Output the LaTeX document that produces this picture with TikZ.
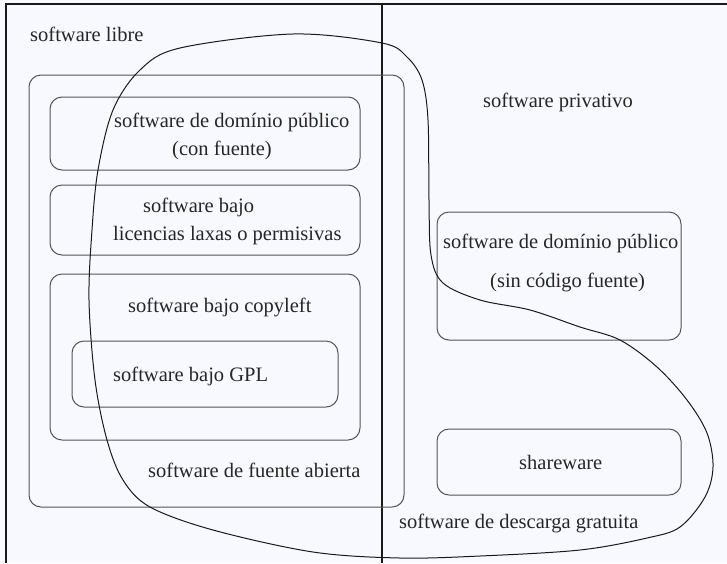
\documentclass[tikz,border=0pt]{standalone}
\usepackage{fontspec}
\setmainfont{Liberation Serif}
\usepackage{tikz}
\usetikzlibrary{positioning}
\definecolor{bgtint}{HTML}{F8F8FF}
\definecolor{boxgray}{HTML}{555555}
\definecolor{framegray}{HTML}{1A1A1A}
\tikzset
{
    areabox/.style  = {rectangle, rounded corners=12pt, draw=boxgray, line width=1pt, inner sep=0pt},
    areatext/.style = {inner sep=0pt, anchor=base west, align=left, text=black!85},
    frameline/.style = {draw=framegray, line width=1.4pt}
}

\begin{document}
\begin{tikzpicture}
    [x=1pt, y=-1pt, font=\fontsize{20.5}{28}\selectfont]
    \fill [bgtint] (0,0) rectangle (727,563);
    \useasboundingbox (0,0) rectangle (727,563);
    % outer frame and the libre / privativo split
    \coordinate (topleft) at (6,4);
    \coordinate (topright) at (727,4);
    \coordinate (botleft) at (6,563);
    \coordinate (splittop) at (382,4);
    \coordinate (splitbot) at (382,563);
    \draw [frameline] (botleft) -- (topleft) -- (topright);
    \draw [frameline, line width=1.1pt] (splittop) -- (splitbot);
    % boxes
    \node [areabox, minimum width=375pt, minimum height=432pt] (abierta) at (216.5,291) {};
    \node [areabox, minimum width=310pt, minimum height=73pt] (dpcon) at (205,133.5) {};
    \node [areabox, minimum width=310pt, minimum height=70pt] (laxas) at (205,220) {};
    \node [areabox, minimum width=310pt, minimum height=166pt] (copyleft) at (205,357) {};
    \node [areabox, minimum width=266pt, minimum height=66pt] (gpl) at (205,374) {};
    \node [areabox, minimum width=244pt, minimum height=128pt] (dpsin) at (559,276) {};
    \node [areabox, minimum width=244pt, minimum height=66pt] (shareware) at (559,462) {};
    % descarga gratuita
    \draw [framegray, line width=1pt] plot [smooth cycle, tension=0.55] coordinates {
      (293,34) (382,43) (407,57) (422,80) (428,120) (429,200) (431,255)
      (443,283) (480,300) (530,310) (580,327) (620,340) (657,367) (687,400)
      (707,433) (713,467) (705,497) (680,527) (647,538) (580,550) (480,556)
      (400,558) (313,552) (213,530) (150,507) (123,480) (107,440) (95,380)
      (89,300) (92,230) (98,170) (113,110) (140,70) (180,48)};
    % labels
    \node [areatext] (libretxt) at (30,41) {software libre};
    \node [areatext] (privtxt) at (483,107) {software privativo};
    \node [areatext] (dpcontxt) at (114,155) {software de domínio público\\\hspace*{58pt}(con fuente)};
    \node [areatext] (laxastxt) at (113,240) {\hspace*{30pt}software bajo\\licencias laxas o permisivas};
    \node [areatext] (copylefttxt) at (128,312) {software bajo copyleft};
    \node [areatext] (gpltxt) at (113,381) {software bajo GPL};
    \node [areatext] (abiertatxt) at (148,477) {software de fuente abierta};
    \node [areatext] (dpsintxt) at (443,287) {software de domínio público\\[11pt]\hspace*{47pt}(sin código fuente)};
    \node [areatext] (sharetxt) at (519,469) {shareware};
    \node [areatext] (descargatxt) at (399,528) {software de descarga gratuita};
\end{tikzpicture}
\end{document}
